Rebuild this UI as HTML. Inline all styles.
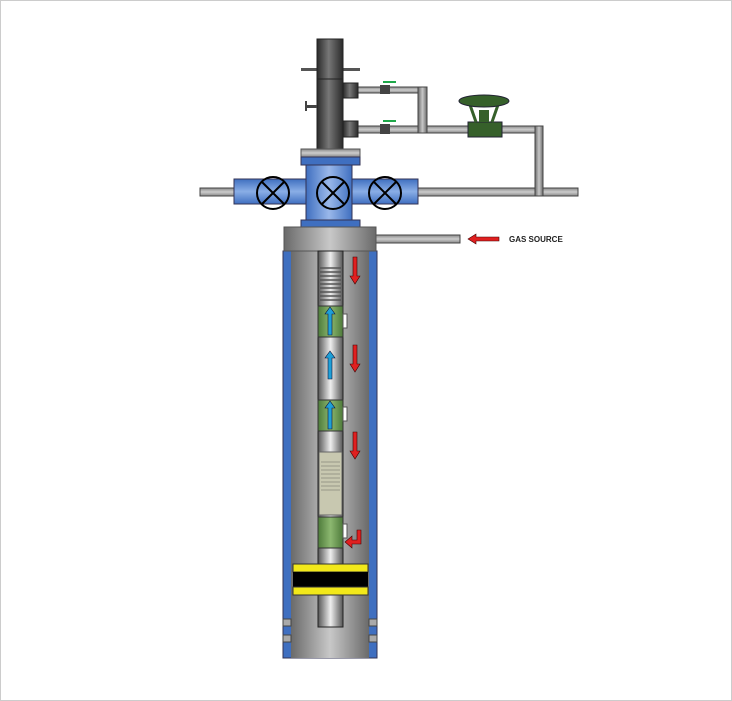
<!DOCTYPE html>
<html><head><meta charset="utf-8"><style>
body{margin:0;background:#fff}
svg{display:block}
</style></head><body>
<svg width="732" height="701" viewBox="0 0 732 701" xmlns="http://www.w3.org/2000/svg">
<defs>
<linearGradient id="dk" x1="0" x2="1"><stop offset="0" stop-color="#2a2a2a"/><stop offset=".45" stop-color="#777"/><stop offset="1" stop-color="#2a2a2a"/></linearGradient>
<linearGradient id="gr" x1="0" x2="1"><stop offset="0" stop-color="#6a6a6a"/><stop offset=".5" stop-color="#c8c8c8"/><stop offset="1" stop-color="#6a6a6a"/></linearGradient>
<linearGradient id="gv" x1="0" y1="0" x2="0" y2="1"><stop offset="0" stop-color="#888"/><stop offset=".5" stop-color="#ccc"/><stop offset="1" stop-color="#888"/></linearGradient>
<linearGradient id="tb" x1="0" x2="1"><stop offset="0" stop-color="#555"/><stop offset=".5" stop-color="#eee"/><stop offset="1" stop-color="#555"/></linearGradient>
<linearGradient id="bl" x1="0" x2="1"><stop offset="0" stop-color="#3f6fc0"/><stop offset=".5" stop-color="#9ab8ea"/><stop offset="1" stop-color="#3f6fc0"/></linearGradient>
<linearGradient id="bh" x1="0" y1="0" x2="0" y2="1"><stop offset="0" stop-color="#3f6fc0"/><stop offset=".5" stop-color="#8aaee6"/><stop offset="1" stop-color="#3f6fc0"/></linearGradient>
<linearGradient id="gn" x1="0" x2="1"><stop offset="0" stop-color="#4d7a3a"/><stop offset=".5" stop-color="#8cb870"/><stop offset="1" stop-color="#4d7a3a"/></linearGradient>
</defs>
<rect x="0.5" y="0.5" width="731" height="700" fill="#fff" stroke="#ccc"/>
<!-- pipes -->
<g fill="url(#gv)" stroke="#444" stroke-width="1">
<rect x="200" y="188" width="378" height="8"/>
<rect x="355" y="87" width="72" height="6"/>
<rect x="355" y="126" width="188" height="7"/>
<rect x="376" y="235" width="84" height="8"/>
</g>
<g fill="url(#gr)" stroke="#444"><rect x="418" y="87" width="9" height="46"/><rect x="535" y="126" width="8" height="70"/></g>
<!-- small valves -->
<g fill="#444"><rect x="380" y="85" width="10" height="9"/><rect x="380" y="124" width="10" height="10"/></g>
<g stroke="#1fa84a" stroke-width="2"><line x1="383" y1="82" x2="396" y2="82"/><line x1="383" y1="121" x2="396" y2="121"/></g>
<!-- control valve -->
<rect x="468" y="122" width="34" height="15" fill="#36602a" stroke="#223"/>
<rect x="479" y="110" width="10" height="12" fill="#36602a"/>
<path d="M469 102 L476 122 M499 102 L492 122" stroke="#36602a" stroke-width="3"/>
<ellipse cx="484" cy="101" rx="25" ry="6" fill="#36602a" stroke="#223"/>
<!-- stem -->
<rect x="301" y="68" width="59" height="3" fill="#555"/>
<rect x="317" y="39" width="26" height="110" fill="url(#dk)" stroke="#222"/>
<line x1="317" y1="79" x2="343" y2="79" stroke="#222"/>
<rect x="305" y="105" width="12" height="3" fill="#444"/><rect x="305" y="101" width="2" height="10" fill="#444"/>
<rect x="343" y="83" width="15" height="15" fill="url(#dk)" stroke="#222"/>
<rect x="343" y="121" width="15" height="16" fill="url(#dk)" stroke="#222"/>
<!-- tree -->
<rect x="301" y="149" width="59" height="8" fill="url(#gv)" stroke="#555"/>
<rect x="301" y="157" width="59" height="8" fill="#3f6fc0" stroke="#335"/>
<rect x="234" y="179" width="184" height="25" fill="url(#bh)" stroke="#335"/>
<rect x="306" y="165" width="46" height="55" fill="url(#bl)" stroke="#335"/>
<rect x="301" y="220" width="59" height="7" fill="#3f6fc0" stroke="#335"/>
<g fill="none" stroke="#000" stroke-width="2">
<circle cx="273" cy="193" r="16"/><path d="M262 182 L284 204 M284 182 L262 204"/>
<circle cx="333" cy="193" r="16"/><path d="M322 182 L344 204 M344 182 L322 204"/>
<circle cx="385" cy="193" r="16"/><path d="M374 182 L396 204 M396 182 L374 204"/>
</g>
<!-- casing -->
<rect x="283" y="251" width="94" height="407" fill="#3f6fc0" stroke="#335"/>
<rect x="291" y="251" width="78" height="407" fill="url(#gr)"/>
<rect x="284" y="227" width="92" height="24" fill="url(#gr)" stroke="#555"/>
<g fill="#aaa" stroke="#444"><rect x="283" y="619" width="8" height="7"/><rect x="283" y="635" width="8" height="7"/><rect x="369" y="619" width="8" height="7"/><rect x="369" y="635" width="8" height="7"/></g>
<!-- tubing -->
<rect x="318" y="251" width="25" height="376" fill="url(#tb)" stroke="#222"/>
<g stroke="#555" stroke-width="1.5">
<line x1="320" y1="268" x2="341" y2="268"/><line x1="320" y1="272" x2="341" y2="272"/><line x1="320" y1="276" x2="341" y2="276"/><line x1="320" y1="280" x2="341" y2="280"/><line x1="320" y1="284" x2="341" y2="284"/><line x1="320" y1="288" x2="341" y2="288"/><line x1="320" y1="292" x2="341" y2="292"/><line x1="320" y1="296" x2="341" y2="296"/><line x1="320" y1="300" x2="341" y2="300"/>
</g>
<rect x="319" y="452" width="23" height="63" fill="#c8c8b0" stroke="#666"/>
<g stroke="#998" stroke-width="1"><line x1="321" y1="462" x2="340" y2="462"/><line x1="321" y1="466" x2="340" y2="466"/><line x1="321" y1="470" x2="340" y2="470"/><line x1="321" y1="474" x2="340" y2="474"/><line x1="321" y1="478" x2="340" y2="478"/><line x1="321" y1="482" x2="340" y2="482"/><line x1="321" y1="486" x2="340" y2="486"/><line x1="321" y1="490" x2="340" y2="490"/></g>
<g fill="url(#gn)" stroke="#333"><rect x="318" y="306" width="25" height="31"/><rect x="318" y="400" width="25" height="31"/><rect x="318" y="517" width="25" height="31"/></g>
<g fill="#fff" stroke="#555"><rect x="343" y="314" width="4" height="14"/><rect x="343" y="407" width="4" height="14"/><rect x="343" y="524" width="4" height="14"/></g>
<!-- blue arrows -->
<g fill="#1ea0d8" stroke="#113" stroke-width="0.6">
<path d="M328 335 V314 H325 L330 307 L335 314 H332 V335Z"/>
<path d="M328 379 V358 H325 L330 351 L335 358 H332 V379Z"/>
<path d="M328 429 V408 H325 L330 401 L335 408 H332 V429Z"/>
</g>
<!-- red arrows -->
<g fill="#e02020" stroke="#400" stroke-width="0.6">
<path d="M353 257 V276 H350 L355 284 L360 276 H357 V257Z"/>
<path d="M353 345 V364 H350 L355 372 L360 364 H357 V345Z"/>
<path d="M353 432 V451 H350 L355 459 L360 451 H357 V432Z"/>
<path d="M357 530 V540 H352 V536 L345 542 L352 548 V544 H361 V530Z"/>
<path d="M499 237 H476 V234 L468 239 L476 244 V241 H499Z"/>
</g>
<!-- packer -->
<rect x="293" y="564" width="75" height="8" fill="#f2e81a" stroke="#333"/>
<rect x="293" y="572" width="75" height="15" fill="#000"/>
<rect x="293" y="587" width="75" height="8" fill="#f2e81a" stroke="#333"/>
<text x="509" y="242" font-family="Liberation Sans, sans-serif" font-size="8" font-weight="bold" fill="#222">GAS SOURCE</text>
</svg>
</body></html>
